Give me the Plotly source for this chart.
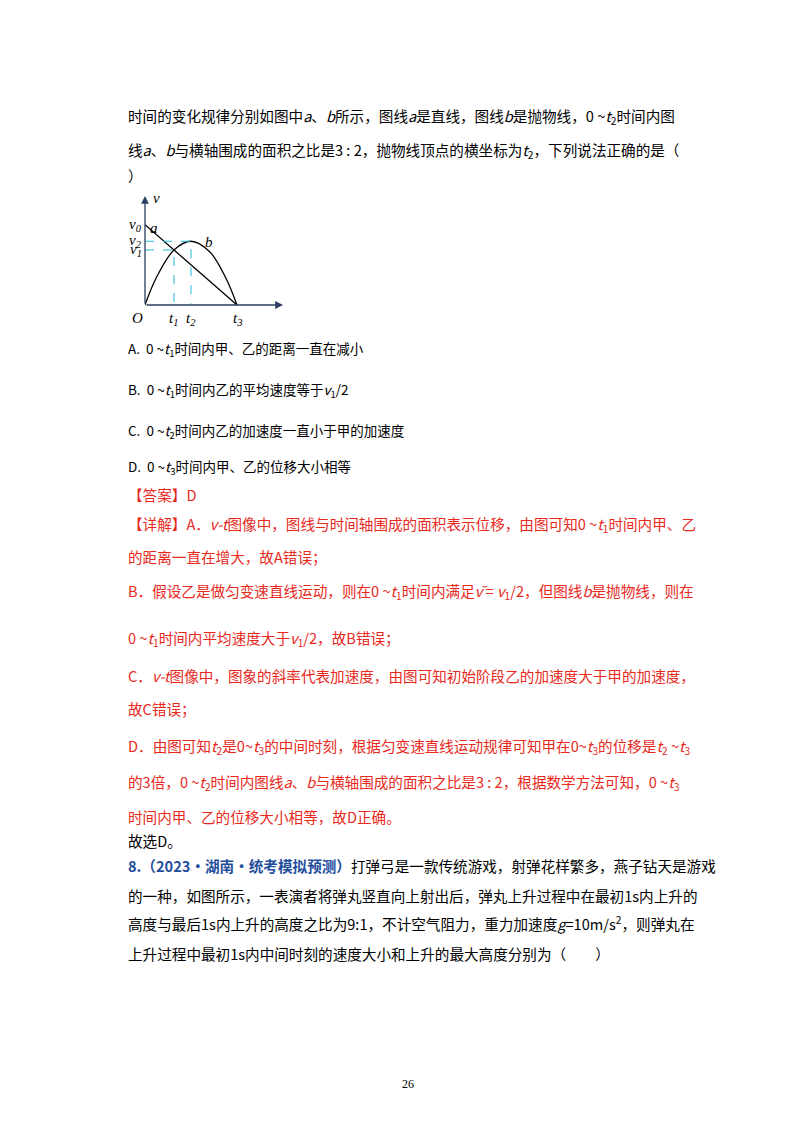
import plotly.graph_objects as go

W, H = 800, 1132
# graph data (units: t3 = 1, v in arbitrary units)
t_a = [0, 1.0]
v_a = [87, 0]
t_b = [0, 0.12, 0.315, 0.5, 0.7, 0.88, 1.0]
v_b = [0, 29, 59.6, 69, 58, 29, 0]
t1, t2, t3 = 0.315, 0.5, 1.0
v0, v1, v2 = 87, 59.6, 69
v_labels = [(v0, "v<sub>0</sub>"), (v2, "v<sub>2</sub>"), (v1, "v<sub>1</sub>")]

def px(x, y):
    return x / W, 1 - y / H

fig = go.Figure()
x0, y0 = px(137, 297)
x1, y1 = px(275, 188)
fig.update_layout(
    width=W, height=H, margin=dict(l=0, r=0, t=0, b=0),
    paper_bgcolor="white", plot_bgcolor="white", showlegend=False,
    xaxis=dict(domain=[x0, x1], range=[0, 1.5], showgrid=False, zeroline=False,
               showticklabels=False, showline=False),
    yaxis=dict(domain=[y0, y1], range=[0, 118], showgrid=False, zeroline=False,
               showticklabels=False, showline=False),
)
blk = dict(color="black", width=1.3)
fig.add_trace(go.Scatter(x=t_a, y=v_a, mode="lines", line=blk))
fig.add_trace(go.Scatter(x=t_b, y=v_b, mode="lines", line=dict(color="black", width=1.3, shape="spline")))
dash = dict(color="#22b8d8", width=1, dash="dash")
fig.add_trace(go.Scatter(x=[0, t1, t1], y=[v1, v1, 0], mode="lines", line=dash))
fig.add_trace(go.Scatter(x=[0, t2, t2], y=[v2, v2, 0], mode="lines", line=dash))
fig.add_annotation(x=1.5, y=0, ax=0, ay=0, xref="x", yref="y", axref="x", ayref="y",
                   showarrow=True, arrowhead=2, arrowsize=1.2, arrowwidth=1.3, text="")
fig.add_annotation(x=0, y=118, ax=0, ay=0, xref="x", yref="y", axref="x", ayref="y",
                   showarrow=True, arrowhead=2, arrowsize=1.2, arrowwidth=1.3, text="")
gf = dict(family="Liberation Serif", size=15, color="black")
def glab(x, y, t, xa="center", ys=0):
    fig.add_annotation(x=x, y=y, xref="x", yref="y", text=t, showarrow=False, font=gf,
                       xanchor=xa, yshift=ys)
glab(0, 0, "<i>O</i>", "right", -13)
for tv, lab in [(t1, "t<sub>1</sub>"), (t2, "t<sub>2</sub>"), (t3, "t<sub>3</sub>")]:
    glab(tv, 0, "<i>" + lab + "</i>", ys=-14)
glab(1.55, 0, "<i>t</i>", ys=-10)
glab(0.12, 116, "<i>v</i>")
for vv, lab in v_labels:
    fig.add_annotation(x=0, y=vv, xref="x domain", yref="y", text="<i>" + lab + "</i>",
                       showarrow=False, font=gf, xanchor="right", xshift=-1)
glab(0.1, 83, "<i>a</i>")
glab(0.7, 68, "<i>b</i>")

RED = "#e8291c"
BLUE = "#1f4e9c"
def line(y, t, color="black", x=118, size=14.6):
    xx, yy = px(x, y)
    fig.add_annotation(x=xx, y=yy, xref="paper", yref="paper", text=t, showarrow=False,
                       xanchor="left", yanchor="middle",
                       font=dict(family="Noto Sans CJK SC", size=size, color=color))

I = lambda s: "<i>" + s + "</i>"
line(108, "时间的变化规律分别如图中" + I("a") + "、" + I("b") + "所示，图线" + I("a") + "是直线，图线" + I("b") + "是抛物线，0 ~" + I("t") + "<sub>2</sub>时间内图")
line(142, "线" + I("a") + "、" + I("b") + "与横轴围成的面积之比是3 : 2，抛物线顶点的横坐标为" + I("t") + "<sub>2</sub>，下列说法正确的是（")
line(168, "）")
line(341, "A.  0 ~" + I("t") + "<sub>1</sub>时间内甲、乙的距离一直在减小", size=13.5)
line(382, "B.  0 ~" + I("t") + "<sub>1</sub>时间内乙的平均速度等于" + I("v") + "<sub>1</sub>/2", size=13.5)
line(423, "C.  0 ~" + I("t") + "<sub>2</sub>时间内乙的加速度一直小于甲的加速度", size=13.5)
line(459, "D.  0 ~" + I("t") + "<sub>3</sub>时间内甲、乙的位移大小相等", size=13.5)
line(487, "【答案】D", RED)
line(516, "【详解】A．" + I("v-t") + "图像中，图线与时间轴围成的面积表示位移，由图可知0 ~" + I("t") + "<sub>1</sub>时间内甲、乙", RED)
line(548, "的距离一直在增大，故A错误；", RED)
line(583, "B．假设乙是做匀变速直线运动，则在0 ~" + I("t") + "<sub>1</sub>时间内满足" + I("v̄") + " = " + I("v") + "<sub>1</sub>/2，但图线" + I("b") + "是抛物线，则在", RED)
line(630, "0 ~" + I("t") + "<sub>1</sub>时间内平均速度大于" + I("v") + "<sub>1</sub>/2，故B错误；", RED)
line(667, "C．" + I("v-t") + "图像中，图象的斜率代表加速度，由图可知初始阶段乙的加速度大于甲的加速度，", RED)
line(700, "故C错误；", RED)
line(738, "D．由图可知" + I("t") + "<sub>2</sub>是0~" + I("t") + "<sub>3</sub>的中间时刻，根据匀变速直线运动规律可知甲在0~" + I("t") + "<sub>3</sub>的位移是" + I("t") + "<sub>2</sub> ~" + I("t") + "<sub>3</sub>", RED)
line(774, "的3倍，0 ~" + I("t") + "<sub>2</sub>时间内图线" + I("a") + "、" + I("b") + "与横轴围成的面积之比是3 : 2，根据数学方法可知，0 ~" + I("t") + "<sub>3</sub>", RED)
line(808, "时间内甲、乙的位移大小相等，故D正确。", RED)
line(832, "故选D。")
line(857, "<b><span style='color:" + BLUE + "'>8.（2023·湖南·统考模拟预测）</span></b>打弹弓是一款传统游戏，射弹花样繁多，燕子钻天是游戏")
line(887, "的一种，如图所示，一表演者将弹丸竖直向上射出后，弹丸上升过程中在最初1s内上升的")
line(915, "高度与最后1s内上升的高度之比为9:1，不计空气阻力，重力加速度" + I("g") + "=10m/s<sup>2</sup>，则弹丸在")
line(945, "上升过程中最初1s内中间时刻的速度大小和上升的最大高度分别为（　　）")
xx, yy = px(400, 1085)
fig.add_annotation(x=xx, y=yy, xref="paper", yref="paper", text="26", showarrow=False,
                   font=dict(family="Liberation Serif", size=12, color="black"))
fig.write_html("out.html")
